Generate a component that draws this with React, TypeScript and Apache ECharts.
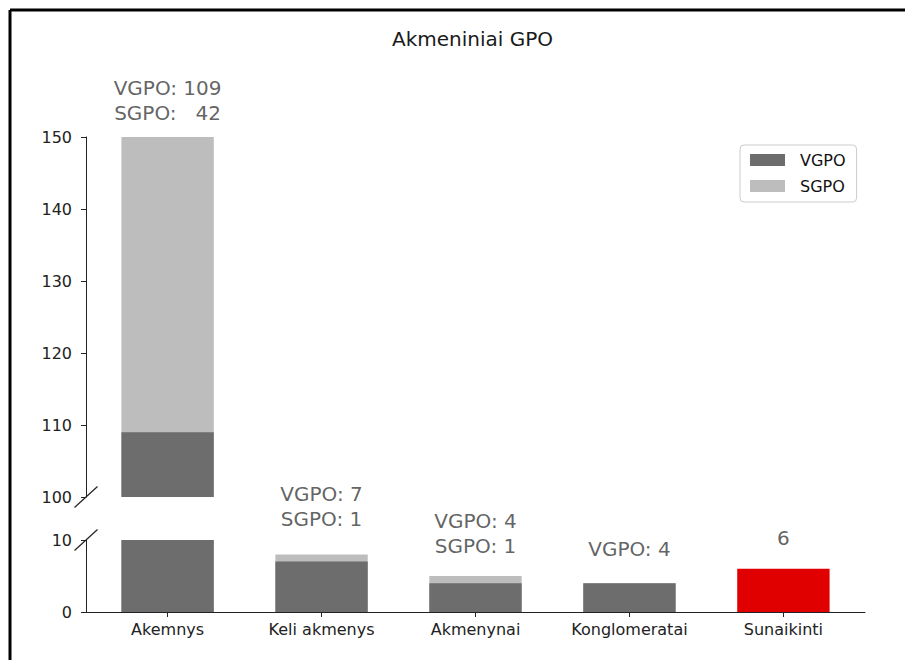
import { useEffect, useRef } from 'react';
import * as echarts from 'echarts';

// ---- data ----
const categories = ['Akemnys', 'Keli akmenys', 'Akmenynai', 'Konglomeratai', 'Sunaikinti'];
const vgpo = [109, 7, 4, 4, 0];
const sgpo = [42, 1, 1, 0, 0];
const sunaikinti = [0, 0, 0, 0, 6];
const upperRange = [100, 150];
const lowerRange = [0, 10];
const tickStep = 10;
const seriesNames = ['VGPO', 'SGPO'];
const titleText = 'Akmeniniai GPO';

// ---- layout / style ----
const FONT = 'DejaVu Sans';
const LEFT = 86;
const PLOT_W = 779;
const UPPER_TOP = 137;
const UPPER_H = 360;
const LOWER_TOP = 540;
const LOWER_H = 72;
const XMIN = -0.53;
const XMAX = 4.53;
const BAR_W = (PLOT_W / (XMAX - XMIN)) * 0.6;
const DARK = '#6d6d6d';
const LIGHT = '#bdbdbd';
const RED = '#e00000';
const labelDistances = [12, 23, 18, 22, 18];

function annotation(i: number): string {
  if (sunaikinti[i] > 0) return String(sunaikinti[i]);
  const v = String(vgpo[i]);
  const s = String(sgpo[i]);
  if (sgpo[i] === 0) return `VGPO: ${v}`;
  const w = Math.max(v.length, s.length);
  const pad = (str: string) => ' '.repeat((w - str.length) * 2) + str;
  return `VGPO: ${pad(v)}\nSGPO: ${pad(s)}`;
}

export default function App() {
  const ref = useRef<HTMLDivElement>(null);
  useEffect(() => {
    if (!ref.current) return;
    const chart = echarts.init(ref.current, undefined, { renderer: 'svg' });
    const idx = categories.map((_, i) => i);
    // top of the grey (VGPO + SGPO) stack
    const stackTops = idx.map((i) => vgpo[i] + sgpo[i]);
    const totals = idx.map((i) => vgpo[i] + sgpo[i] + sunaikinti[i]);

    const xAxisBase = {
      type: 'value' as const,
      min: XMIN,
      max: XMAX,
      splitLine: { show: false },
    };
    const yAxisBase = {
      type: 'value' as const,
      interval: tickStep,
      splitLine: { show: false },
      axisLine: { show: true, onZero: false, lineStyle: { color: '#222', width: 1 } },
      axisTick: { show: true, length: 5, lineStyle: { color: '#222' } },
      axisLabel: { fontFamily: FONT, fontSize: 16, color: '#222', margin: 14 },
    };
    const labelStyle = {
      show: true,
      position: 'top' as const,
      fontFamily: FONT,
      fontSize: 20,
      lineHeight: 25,
      color: '#3a3a3a',
      align: 'center' as const,
      formatter: (p: any) => annotation(p.data.value[0]),
    };

    const upperLabels = idx
      .filter((i) => totals[i] > lowerRange[1])
      .map((i) => ({ value: [i, Math.min(totals[i], upperRange[1])], label: { distance: labelDistances[i] } }));
    const lowerLabels = idx
      .filter((i) => totals[i] <= lowerRange[1])
      .map((i) => ({ value: [i, totals[i]], label: { distance: labelDistances[i] } }));

    const frameY = 10;
    const frameX = 10;
    const breakDx = 11.5;
    const breakDy = 10.5;
    const breakY1 = UPPER_TOP + UPPER_H;
    const breakY2 = LOWER_TOP;

    const barBase = { type: 'bar' as const, barWidth: BAR_W, barGap: '-100%' };
    const barsFor = (g: number) => [
      {
        ...barBase, name: seriesNames[1], xAxisIndex: g, yAxisIndex: g,
        itemStyle: { color: LIGHT }, data: idx.map((i) => [i, stackTops[i]]),
      },
      {
        ...barBase, name: seriesNames[0], xAxisIndex: g, yAxisIndex: g,
        itemStyle: { color: DARK }, data: idx.map((i) => [i, vgpo[i]]),
      },
      {
        ...barBase, name: 'Sunaikinti', xAxisIndex: g, yAxisIndex: g,
        itemStyle: { color: RED }, data: idx.map((i) => [i, sunaikinti[i]]),
      },
    ];

    chart.setOption({
      animation: false,
      title: {
        text: titleText,
        left: 392,
        top: 29,
        padding: 0,
        textStyle: { fontFamily: FONT, fontSize: 20, fontWeight: 'normal', color: '#1a1a1a' },
      },
      legend: {
        data: seriesNames,
        orient: 'vertical',
        left: 740,
        top: 145,
        icon: 'rect',
        itemWidth: 35,
        itemHeight: 12,
        itemGap: 10,
        padding: [7, 11, 8, 10],
        borderColor: '#cccccc',
        borderWidth: 1,
        borderRadius: 4,
        textStyle: { fontFamily: FONT, fontSize: 16, color: '#111', lineHeight: 16, padding: [0, 0, 0, 10] },
      },
      grid: [
        { left: LEFT, top: UPPER_TOP, width: PLOT_W, height: UPPER_H },
        { left: LEFT, top: LOWER_TOP, width: PLOT_W, height: LOWER_H },
      ],
      xAxis: [
        { ...xAxisBase, gridIndex: 0, show: false },
        {
          ...xAxisBase,
          gridIndex: 1,
          axisLine: { show: true, onZero: false, lineStyle: { color: '#222', width: 1 } },
          axisTick: { show: true, length: 5, lineStyle: { color: '#222' }, customValues: idx },
          axisLabel: {
            fontFamily: FONT,
            fontSize: 16,
            color: '#222',
            margin: 9,
            customValues: idx,
            formatter: (v: number) => categories[Math.round(v)] ?? '',
          },
        },
      ],
      yAxis: [
        { ...yAxisBase, gridIndex: 0, min: upperRange[0], max: upperRange[1] },
        { ...yAxisBase, gridIndex: 1, min: lowerRange[0], max: lowerRange[1] },
      ],
      series: [
        ...barsFor(0),
        ...barsFor(1),
        {
          name: 'labels-upper', type: 'scatter', xAxisIndex: 0, yAxisIndex: 0, symbolSize: 0,
          clip: false, silent: true, label: labelStyle, data: upperLabels,
        },
        {
          name: 'labels-lower', type: 'scatter', xAxisIndex: 1, yAxisIndex: 1, symbolSize: 0,
          clip: false, silent: true, label: labelStyle, data: lowerLabels,
        },
      ],
      graphic: [
        { type: 'line', shape: { x1: frameX, y1: frameY, x2: 905, y2: frameY }, style: { stroke: '#000', lineWidth: 3 } },
        { type: 'line', shape: { x1: frameX, y1: frameY, x2: frameX, y2: 660 }, style: { stroke: '#000', lineWidth: 3 } },
        {
          type: 'line',
          shape: { x1: LEFT - breakDx, y1: breakY1 + breakDy, x2: LEFT + breakDx, y2: breakY1 - breakDy },
          style: { stroke: '#222', lineWidth: 1.2 },
        },
        {
          type: 'line',
          shape: { x1: LEFT - breakDx, y1: breakY2 + breakDy, x2: LEFT + breakDx, y2: breakY2 - breakDy },
          style: { stroke: '#222', lineWidth: 1.2 },
        },
      ],
    });
    return () => chart.dispose();
  }, []);
  return (
    <div
      ref={ref}
      style={{ position: 'fixed', left: 0, top: 0, width: 905, height: 660, background: '#fff' }}
    />
  );
}
